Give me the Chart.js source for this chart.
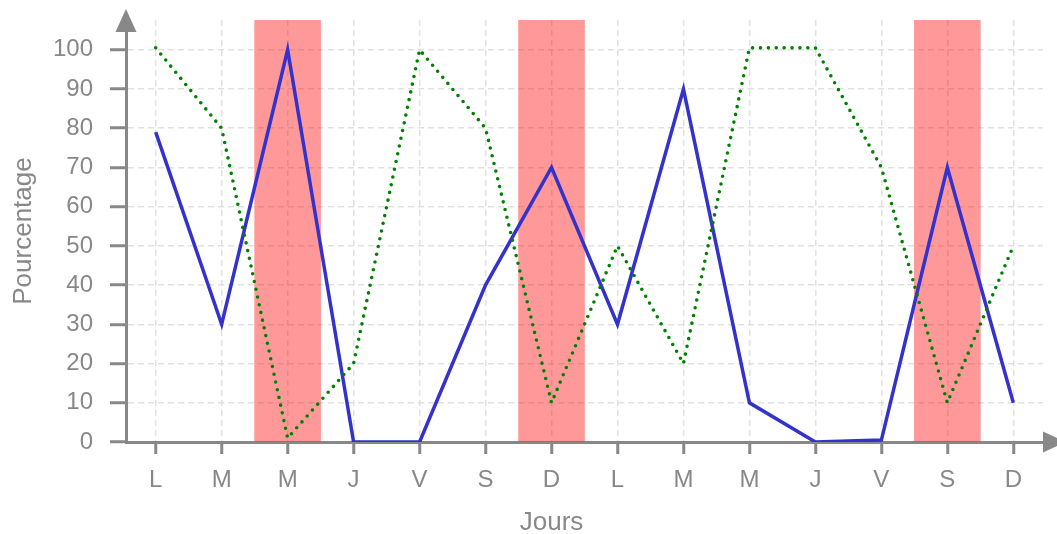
<!doctype html>
<html lang="fr">

<head>
    <meta charset="utf-8">
    <title>Pourcentage par jour</title>
    <style>
        * {
            margin: 0;
            padding: 0;
        }

        body {
            background: #fff;
        }

        .chartBox {
            width: 1057px;
            height: 534px;
        }
    </style>
</head>

<body>
    <div class="chartBox">
        <canvas id="myChart"></canvas>
    </div>

    <script src="https://cdn.jsdelivr.net/npm/chart.js"></script>
    <script>
        // data
        const days = ['L', 'M', 'M', 'J', 'V', 'S', 'D', 'L', 'M', 'M', 'J', 'V', 'S', 'D'];
        const yTicks = [0, 10, 20, 30, 40, 50, 60, 70, 80, 90, 100];
        const blueSeries = [79, 30, 100, 0, 0, 40, 70, 30, 90, 10, 0, 0.5, 70, 10];
        const greenSeries = [100.5, 80, 1, 20, 100, 80, 10, 50, 20, 100.5, 100.5, 70, 10, 50];
        const highlightDays = [2, 6, 12];

        const Y_MAX = 107.6;
        const GREY = '#888888';
        const FONT = 'Liberation Sans, Arial, Helvetica, sans-serif';

        // draws the arrow heads and the x title
        const axisArrows = {
            id: 'axisArrows',
            afterDraw(chart) {
                const ctx = chart.ctx;
                const area = chart.chartArea;
                const xs = chart.scales.x;
                ctx.save();
                ctx.fillStyle = GREY;
                ctx.beginPath();
                ctx.moveTo(area.left - 10.5, area.top + 12);
                ctx.lineTo(area.left + 10.5, area.top + 12);
                ctx.lineTo(area.left, area.top - 11);
                ctx.closePath();
                ctx.fill();
                ctx.beginPath();
                ctx.moveTo(area.right, area.bottom - 10.5);
                ctx.lineTo(area.right, area.bottom + 10.5);
                ctx.lineTo(area.right + 23, area.bottom);
                ctx.closePath();
                ctx.fill();

                ctx.font = '26px ' + FONT;
                ctx.textAlign = 'center';
                ctx.textBaseline = 'alphabetic';
                ctx.fillText('Jours', xs.getPixelForValue(6), area.bottom + 88);
                ctx.restore();
            }
        };

        const data = {
            datasets: [{
                type: 'line',
                label: 'bleu',
                data: blueSeries.map((v, i) => ({ x: i, y: v })),
                borderColor: '#3333cc',
                borderWidth: 3.5,
                pointRadius: 0,
                tension: 0,
                order: 1
            }, {
                type: 'line',
                label: 'vert',
                data: greenSeries.map((v, i) => ({ x: i, y: v })),
                borderColor: '#008000',
                borderWidth: 3.6,
                borderDash: [0, 7.9],
                borderCapStyle: 'round',
                borderJoinStyle: 'round',
                pointRadius: 0,
                tension: 0,
                order: 0
            }, {
                type: 'bar',
                label: 'weekend',
                data: highlightDays.map(i => ({ x: i, y: Y_MAX })),
                backgroundColor: 'rgba(255, 0, 0, 0.4)',
                borderWidth: 0,
                barPercentage: 1,
                categoryPercentage: 1,
                order: 2
            }]
        };

        const config = {
            data,
            options: {
                responsive: true,
                maintainAspectRatio: false,
                animation: false,
                layout: {
                    padding: { top: 20, right: 14, left: 0, bottom: 0 }
                },
                plugins: {
                    legend: { display: false },
                    tooltip: { enabled: false }
                },
                scales: {
                    x: {
                        type: 'linear',
                        min: -0.45,
                        max: 13.45,
                        offset: false,
                        z: 1,
                        afterBuildTicks: s => { s.ticks = days.map((d, i) => ({ value: i })); },
                        afterFit: s => { s.height = 92; s.paddingLeft = 0; s.paddingRight = 0; },
                        ticks: {
                            callback: v => days[v],
                            color: GREY,
                            font: { size: 24, family: FONT },
                            padding: 12,
                            maxRotation: 0,
                            autoSkip: false
                        },
                        grid: {
                            offset: false,
                            color: 'rgba(220, 220, 220, 0.85)',
                            lineWidth: 1.5,
                            tickLength: 12,
                            tickColor: GREY,
                            tickWidth: 3,
                            tickBorderDash: []
                        },
                        border: {
                            color: GREY,
                            width: 3,
                            dash: [6, 4]
                        }
                    },
                    y: {
                        min: 0,
                        max: Y_MAX,
                        z: 1,
                        afterBuildTicks: s => { s.ticks = yTicks.map(v => ({ value: v })); },
                        afterFit: s => { s.width = 126; s.paddingTop = 0; s.paddingBottom = 0; },
                        title: {
                            display: true,
                            text: 'Pourcentage',
                            color: GREY,
                            font: { size: 26, family: FONT },
                            padding: { top: 8, bottom: 0 }
                        },
                        ticks: {
                            color: GREY,
                            font: { size: 24, family: FONT },
                            padding: 17
                        },
                        grid: {
                            color: 'rgba(220, 220, 220, 0.85)',
                            lineWidth: 1.5,
                            tickLength: 16,
                            tickColor: GREY,
                            tickWidth: 3,
                            tickBorderDash: []
                        },
                        border: {
                            color: GREY,
                            width: 3,
                            dash: [6, 4]
                        }
                    }
                }
            },
            plugins: [axisArrows]
        };

        window.chart = new Chart(document.getElementById('myChart'), config);
    </script>
</body>

</html>
